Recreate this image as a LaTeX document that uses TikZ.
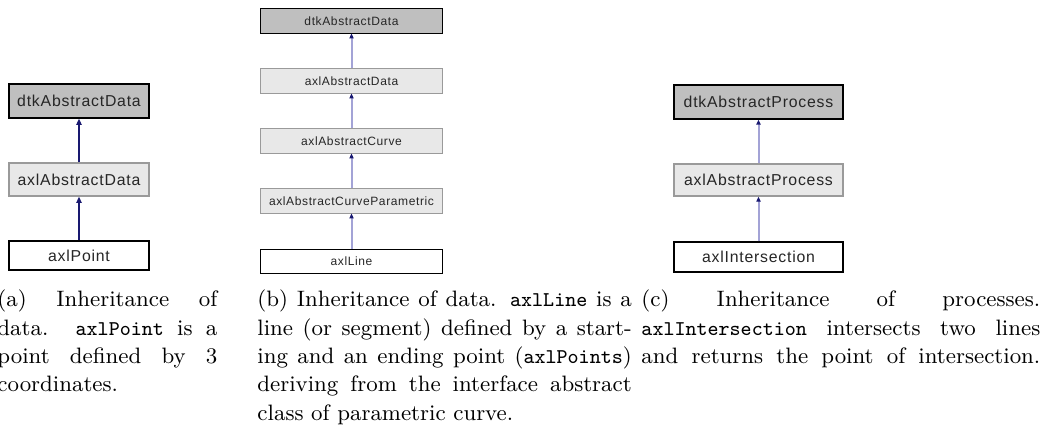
\documentclass[tikz,border=0pt]{standalone}
\usepackage{fontspec}
\newfontfamily\boxfont[LetterSpace=5]{Liberation Sans}
\usetikzlibrary{arrows.meta}

\definecolor{topfill}{HTML}{BFBFBF}
\definecolor{midfill}{HTML}{E8E8E8}
\definecolor{midline}{HTML}{9A9A9A}
\definecolor{edgeblue}{HTML}{191970}
\definecolor{edgelight}{HTML}{A3A3D6}

\newlength\pu
\setlength\pu{0.42373pt}

% class names inside the captions
\newcommand\ttname[1]{{\fontsize{8.9}{12}\selectfont\ttfamily #1}}
% one justified caption line, spread over the full column width
\newcommand\jline[1]{\noindent\hbox to\hsize{\spaceskip=0pt\xspaceskip=0pt #1}\par}
% last caption line, at its natural width
\newcommand\lline[1]{\noindent\hbox{\spaceskip=0pt\xspaceskip=0pt #1}\par}

\tolerance=10000
\hbadness=10000

\tikzset{
  cls/.style={draw, rectangle, inner sep=0pt, text=black!85, align=center},
  rootbox/.style={cls, fill=topfill, draw=black},
  midbox/.style={cls, fill=midfill, draw=midline},
  leafbox/.style={cls, fill=white, draw=black},
  bigset/.style={line width=0.55pt, font=\boxfont\fontsize{6.7}{8}\selectfont},
  smallset/.style={line width=0.4pt, font=\boxfont\fontsize{5.1}{6}\selectfont},
  inhdark/.style={draw=edgeblue, line width=0.7pt,
    -{Triangle[length=2.6pt,width=2.2pt]}},
  inhlight/.style={draw=edgelight, line width=0.85pt,
    -{Triangle[length=2.1pt,width=1.8pt,color=edgeblue]}},
  capnode/.style={anchor=base west, inner sep=0pt, align=left,
    font=\fontsize{9.45}{12}\selectfont},
}

\begin{document}
\begin{tikzpicture}[x=\pu, y=-\pu]
\useasboundingbox (0,0) rectangle (1047,429);

% (a) data inheritance
\node[rootbox, bigset, minimum width=59.3pt, minimum height=14.4pt] (a1) at (79,101) {dtkAbstractData};
\node[midbox, bigset, minimum width=59.3pt, minimum height=14.0pt] (a2) at (79,179.5) {axlAbstractData};
\node[leafbox, bigset, minimum width=59.3pt, minimum height=12.3pt] (a3) at (79,255.5) {axlPoint};
\draw[inhdark] (a2) -- (a1);
\draw[inhdark] (a3) -- (a2);

% (b) curve inheritance
\node[rootbox, smallset, minimum width=77.5pt, minimum height=10.2pt] (b1) at (351.5,21) {dtkAbstractData};
\node[midbox, smallset, minimum width=77.5pt, minimum height=10.2pt] (b2) at (351.5,81) {axlAbstractData};
\node[midbox, smallset, minimum width=77.5pt, minimum height=10.2pt] (b3) at (351.5,141) {axlAbstractCurve};
\node[midbox, smallset, minimum width=77.5pt, minimum height=10.2pt] (b4) at (351.5,201) {axlAbstractCurveParametric};
\node[leafbox, smallset, minimum width=77.5pt, minimum height=10.0pt] (b5) at (351.5,261.5) {axlLine};
\draw[inhlight] (b2) -- (b1);
\draw[inhlight] (b3) -- (b2);
\draw[inhlight] (b4) -- (b3);
\draw[inhlight] (b5) -- (b4);

% (c) process inheritance
\node[rootbox, bigset, minimum width=71.6pt, minimum height=14.4pt] (c1) at (758.5,102) {dtkAbstractProcess};
\node[midbox, bigset, minimum width=71.6pt, minimum height=13.6pt] (c2) at (758.5,180) {axlAbstractProcess};
\node[leafbox, bigset, minimum width=71.6pt, minimum height=12.7pt] (c3) at (758.5,257) {axlIntersection};
\draw[inhlight] (c2) -- (c1);
\draw[inhlight] (c3) -- (c2);

% captions
\node[capnode, text width=93.2pt] (capa) at (-3,307) {%
  \jline{(a) Inheritance of}%
  \jline{data. \ttname{axlPoint} is a}%
  \jline{point defined by 3}%
  \lline{coordinates.}};
\node[capnode, text width=158.6pt] (capb) at (257,307) {%
  \jline{(b) Inheritance of data. \ttname{axlLine} is a}%
  \jline{line (or segment) defined by a start-}%
  \jline{ing and an ending point (\ttname{axlPoints})}%
  \jline{deriving from the interface abstract}%
  \lline{class of parametric curve.}};
\node[capnode, text width=169pt] (capc) at (641,307) {%
  \jline{(c) Inheritance of processes.}%
  \jline{\ttname{axlIntersection} intersects two lines}%
  \jline{and returns the point of intersection.}};
\end{tikzpicture}
\end{document}
